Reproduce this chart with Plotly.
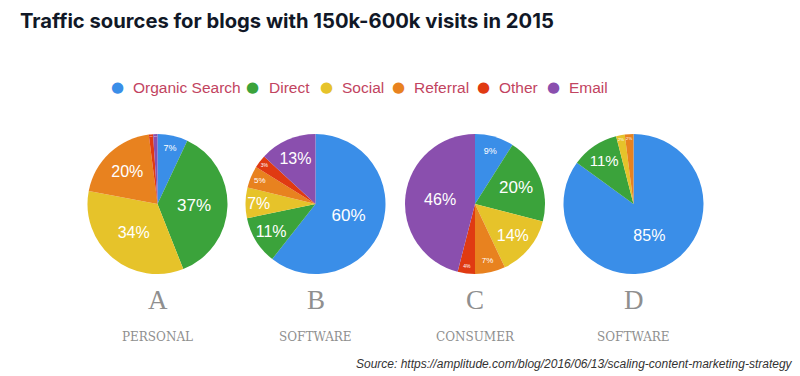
import plotly.graph_objects as go

# ---- data ----
sources = ["Organic Search", "Direct", "Social", "Referral", "Other", "Email"]
colors = ["#3a8ee8", "#3ba33b", "#e6c32a", "#e8821f", "#e03a12", "#8a4fae"]
letters = ["A", "B", "C", "D"]
segments = ["PERSONAL", "SOFTWARE", "CONSUMER", "SOFTWARE"]
values_A = [7, 37, 34, 20, 1, 1]
values_B = [60, 11, 7, 5, 3, 13]
values_C = [9, 20, 14, 7, 4, 46]
values_D = [85, 11, 2, 2, 0, 0]
all_values = [values_A, values_B, values_C, values_D]

# label font sizes per slice (visual style)
text_sizes = [
    [9, 17, 16, 16, 5, 5],
    [17, 16, 16, 8, 5, 16],
    [9, 17, 16, 8, 5, 16],
    [16, 15, 5, 5, 5, 5],
]

W, H = 800, 376
centers_x = [157.5, 315.5, 475, 633.5]
cy, r = 204, 70

fig = go.Figure()
for i, vals in enumerate(all_values):
    cx = centers_x[i]
    fig.add_trace(go.Pie(
        labels=sources, values=vals,
        text=[f"{v}%" if v > 0 else "" for v in vals],
        texttemplate="%{text}", textposition="inside",
        insidetextorientation="horizontal",
        textfont=dict(color="white", size=text_sizes[i], family="Liberation Sans"),
        marker=dict(colors=colors, line=dict(width=0)),
        sort=False, direction="clockwise", rotation=0,
        showlegend=False, hoverinfo="label+value",
        domain=dict(x=[(cx - r) / W, (cx + r) / W], y=[1 - (cy + r) / H, 1 - (cy - r) / H]),
    ))

ann = []
# title
ann.append(dict(text="<b>Traffic sources for blogs with 150k-600k visits in 2015</b>",
                x=18 / W, y=1 - 20 / H, xref="paper", yref="paper", xanchor="left", yanchor="middle",
                showarrow=False, font=dict(family="Inter", size=20.2, color="#111827")))
# legend
leg_x = [117, 253, 326, 398, 483, 553]
for sx, name, col in zip(leg_x, sources, colors):
    ann.append(dict(text="●", x=sx / W, y=1 - 87 / H, xref="paper", yref="paper",
                    xanchor="center", yanchor="middle", showarrow=False,
                    font=dict(size=15, color=col, family="DejaVu Sans")))
    ann.append(dict(text=name, x=(sx + 14) / W, y=1 - 87 / H, xref="paper", yref="paper",
                    xanchor="left", yanchor="middle", showarrow=False,
                    font=dict(size=15.5, color="#c2445f", family="Liberation Sans")))
# letters & segments
for cx, L, s in zip(centers_x, letters, segments):
    ann.append(dict(text=L, x=cx / W, y=1 - 300 / H, xref="paper", yref="paper",
                    xanchor="center", yanchor="middle", showarrow=False,
                    font=dict(size=27, color="#8f8f8f", family="Liberation Serif")))
    ann.append(dict(text=s, x=cx / W, y=1 - 337 / H, xref="paper", yref="paper",
                    xanchor="center", yanchor="middle", showarrow=False,
                    font=dict(size=12, color="#8f8f8f", family="DejaVu Serif")))
# source
ann.append(dict(text="<i>Source: https://amplitude.com/blog/2016/06/13/scaling-content-marketing-strategy</i>",
                x=795 / W, y=1 - 364 / H, xref="paper", yref="paper", xanchor="right", yanchor="middle",
                showarrow=False, font=dict(size=12, color="#333333", family="Liberation Sans")))

fig.update_layout(width=W, height=H, margin=dict(l=0, r=0, t=0, b=0),
                  paper_bgcolor="white", plot_bgcolor="white", annotations=ann)
fig.write_html("out.html", post_script="document.body.style.margin='0';",
               config={"displayModeBar": False})
